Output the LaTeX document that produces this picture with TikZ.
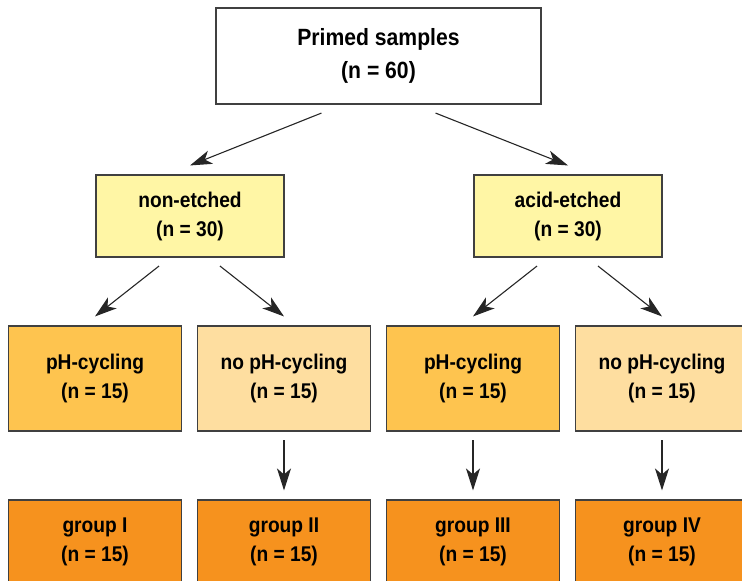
\documentclass[tikz,border=0pt]{standalone}
\usepackage{fontspec}
\setmainfont{Liberation Sans}[FakeStretch=0.9]
\usetikzlibrary{arrows.meta}
\definecolor{etchfill}{RGB}{255,246,165}
\definecolor{cycfill}{RGB}{254,196,79}
\definecolor{nocycfill}{RGB}{254,222,160}
\definecolor{groupfill}{RGB}{246,146,30}

\begin{document}
\begin{tikzpicture}
  [x=1pt,y=-1pt,
   every node/.style={draw=black!75,line width=1.1pt,inner sep=0pt,align=center,
     font=\bfseries\fontsize{21.3}{29}\selectfont,minimum width=173.5pt,minimum height=105pt},
   topbox/.style={fill=white,minimum width=325pt,minimum height=96pt,
     font=\bfseries\fontsize{23.5}{33}\selectfont},
   etchbox/.style={fill=etchfill,minimum width=188pt,minimum height=82pt},
   cycbox/.style={fill=cycfill},
   nocycbox/.style={fill=nocycfill},
   groupbox/.style={fill=groupfill,minimum height=84pt},
   arr/.style={-{Stealth[length=22pt,width=14pt,inset=6pt]},line width=1.1pt,draw=black!85}]
  \clip (0,0) rectangle (742,581);

  \node[topbox] (1) at (378.5,56) {Primed samples\\(n = 60)};
  \node[etchbox] (2) at (190,216) {non-etched\\(n = 30)};
  \node[etchbox] (3) at (568,216) {acid-etched\\(n = 30)};

  \node[cycbox] (4) at (95,378.5) {pH-cycling\\(n = 15)};
  \node[nocycbox] (5) at (284,378.5) {no pH-cycling\\(n = 15)};
  \node[cycbox] (6) at (473,378.5) {pH-cycling\\(n = 15)};
  \node[nocycbox] (7) at (662,378.5) {no pH-cycling\\(n = 15)};

  \node[groupbox] (8) at (95,542) {group I\\(n = 15)};
  \node[groupbox] (9) at (284,542) {group II\\(n = 15)};
  \node[groupbox] (10) at (473,542) {group III\\(n = 15)};
  \node[groupbox] (11) at (662,542) {group IV\\(n = 15)};

  \foreach \from/\dx/\to in {1/-57/2,1/57/3,2/-31/4,2/30/5,3/-31/6,3/30/7,5/0/9,6/0/10,7/0/11}
    \draw[arr] ([xshift=\dx pt,yshift=-8.5pt]\from.south) -- ([yshift=9pt]\to.north);

\end{tikzpicture}
\end{document}
